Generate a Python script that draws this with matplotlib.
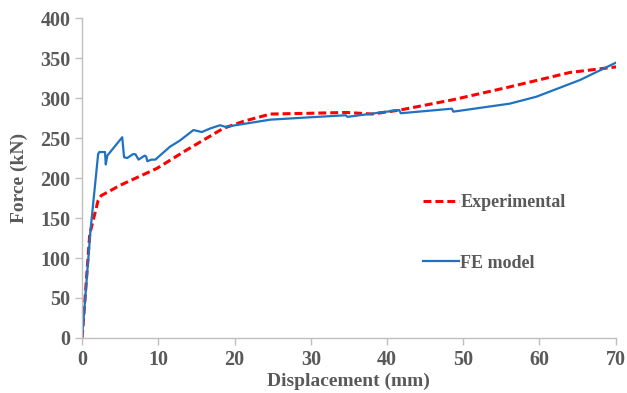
import matplotlib
matplotlib.use('Agg')
import matplotlib.pyplot as plt

# Experimental load-displacement curve
exp_disp = [0, 1.0, 2.1, 2.5, 5.0, 9.8, 13.7, 18.5, 21.2, 24.7, 30, 34.7, 38, 41.7, 48.7, 56.1, 64.0, 70.1]
exp_force = [0, 130, 172, 178, 191, 212, 235, 262, 271, 280, 281, 282, 280, 285, 298, 314, 332, 339]

# FE model curve
fe_disp = [0, 1.1, 2.1, 2.25, 3.0, 3.1, 3.3, 5.26, 5.5, 5.9, 6.7, 7.0, 7.4, 8.2, 8.4, 8.55, 9.1, 9.6,
           11.5, 12.85, 14.6, 15.7, 16.8, 18.1, 18.8, 24.7, 30, 34.6, 34.8, 41.6, 41.8, 48.5, 48.7,
           56.1, 59.6, 65.3, 70.1]
fe_force = [0, 135, 230, 232.5, 232.5, 217, 228, 251, 226, 225, 230, 229.6, 223, 228, 227, 221, 223, 223,
            239, 247, 260, 257.5, 262, 266, 264, 273, 276, 278.5, 276.5, 285, 281, 286.7, 283,
            293, 301.7, 322.5, 344.6]

gray = '#595959'
plt.rcParams['font.family'] = 'Liberation Serif'
plt.rcParams['font.weight'] = 'bold'

fig = plt.figure(figsize=(6.27, 3.93), dpi=100)
ax = fig.add_axes([0.131, 0.140, 0.851, 0.814])

ax.plot(exp_disp, exp_force, '--', color='#FF0000', lw=2.2, dashes=(2.6, 1.3), label='Experimental')
ax.plot(fe_disp, fe_force, '-', color='#1F72C2', lw=1.6, label='FE model')

ax.set_xlim(0, 70)
ax.set_ylim(0, 400)
ax.set_xticks(range(0, 71, 10))
ax.set_yticks(range(0, 401, 50))

for s in ['top', 'right']:
    ax.spines[s].set_visible(False)
for s in ['left', 'bottom']:
    ax.spines[s].set_color('#BFBFBF')
    ax.spines[s].set_linewidth(1.0)
ax.tick_params(colors='#BFBFBF', labelcolor=gray, labelsize=14.5, length=5, width=1)
for lab in ax.get_xticklabels() + ax.get_yticklabels():
    lab.set_fontweight('bold')

ax.set_xlabel('Displacement (mm)', fontsize=14, color=gray, fontweight='bold', labelpad=2)
ax.set_ylabel('Force (kN)', fontsize=14, color=gray, fontweight='bold', labelpad=9)

leg = ax.legend(loc='upper left', bbox_to_anchor=(0.609, 0.50), frameon=False,
                labelspacing=2.4, handlelength=1.95, handletextpad=0.1,
                prop={'family': 'Liberation Serif', 'weight': 'bold', 'size': 13})
for t in leg.get_texts():
    t.set_color(gray)

fig.savefig('out.png', dpi=100)
